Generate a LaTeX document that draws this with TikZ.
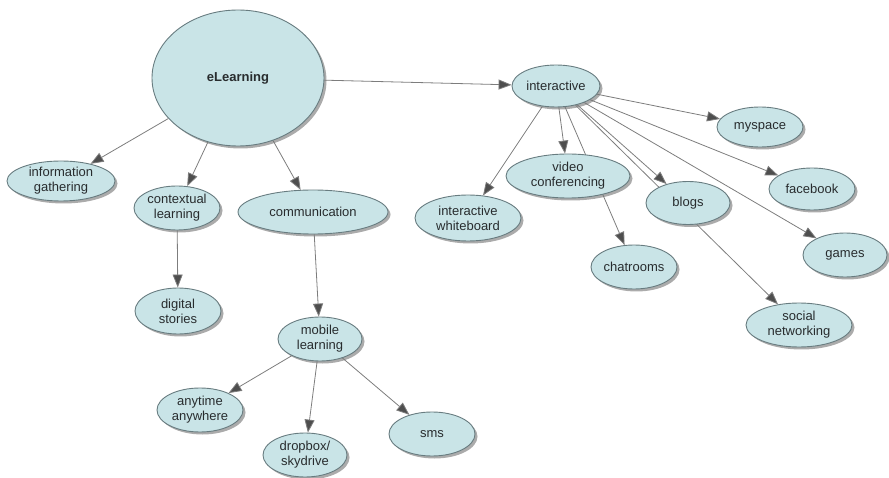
\documentclass[tikz,border=0pt]{standalone}
\usepackage{fontspec}
\setmainfont{Liberation Sans}
\usetikzlibrary{shapes.geometric,arrows.meta,shadows,backgrounds}
\definecolor{conceptfill}{RGB}{201,228,231}
\definecolor{conceptline}{RGB}{104,124,128}
\definecolor{linkgray}{RGB}{125,125,125}
\definecolor{tipgray}{RGB}{78,78,78}
\definecolor{textdark}{RGB}{40,44,46}
\tikzset{
  concept/.style={ellipse, draw=conceptline, line width=0.9pt, fill=conceptfill,
    inner sep=0pt, align=center, text=textdark,
    font=\fontsize{13}{15}\selectfont,
    drop shadow={shadow xshift=2.5pt, shadow yshift=-2.5pt, fill=black!55, opacity=0.6}},
  link/.style={draw=linkgray, line width=0.8pt,
    -{Triangle[length=13pt,width=10pt,fill=tipgray]}},
}
\begin{document}
\begin{tikzpicture}[x=1pt,y=-1pt]
\useasboundingbox (0,0) rectangle (889,478);
% concepts
\node[concept, minimum width=172pt, minimum height=136pt, font=\fontsize{13}{15}\selectfont\bfseries] (elearn) at (238,78) {eLearning};
\node[concept, minimum width=108pt, minimum height=40pt] (info) at (61,181) {information\\gathering};
\node[concept, minimum width=86pt, minimum height=44pt] (context) at (177,208) {contextual\\learning};
\node[concept, minimum width=150pt, minimum height=44pt] (comm) at (313,212) {communication};
\node[concept, minimum width=86pt, minimum height=46pt] (digital) at (178,311) {digital\\stories};
\node[concept, minimum width=84pt, minimum height=44pt] (mobile) at (320,339) {mobile\\learning};
\node[concept, minimum width=86pt, minimum height=44pt] (anytime) at (200,410) {anytime\\anywhere};
\node[concept, minimum width=84pt, minimum height=44pt] (dropbox) at (305,455) {dropbox/\\skydrive};
\node[concept, minimum width=86pt, minimum height=44pt] (sms) at (432,434) {sms};
\node[concept, minimum width=88pt, minimum height=42pt] (inter) at (556,86) {interactive};
\node[concept, minimum width=106pt, minimum height=46pt] (white) at (468,218) {interactive\\whiteboard};
\node[concept, minimum width=124pt, minimum height=44pt] (video) at (568,176) {video\\conferencing};
\node[concept, minimum width=86pt, minimum height=44pt] (chat) at (634,267) {chatrooms};
\node[concept, minimum width=84pt, minimum height=43pt] (blogs) at (688,203) {blogs};
\node[concept, minimum width=86pt, minimum height=40pt] (myspace) at (760,127) {myspace};
\node[concept, minimum width=86pt, minimum height=42pt] (facebook) at (812,189) {facebook};
\node[concept, minimum width=84pt, minimum height=44pt] (games) at (845,255) {games};
\node[concept, minimum width=106pt, minimum height=44pt] (social) at (799,325) {social\\networking};
% links, drawn behind the concepts
\begin{scope}[on background layer]
\draw[link] (elearn) -- (info);
\draw[link] (elearn) -- (context);
\draw[link] (elearn) -- (comm);
\draw[link] (elearn) -- (inter);
\draw[link] (context) -- (digital);
\draw[link] (comm) -- (mobile);
\draw[link] (mobile) -- (anytime);
\draw[link] (mobile) -- (dropbox);
\draw[link] (mobile) -- (sms);
\draw[link] (inter) -- (white);
\draw[link] (inter) -- (video);
\draw[link] (inter) -- (chat);
\draw[link] (inter) -- (blogs);
\draw[link] (inter) -- (social);
\draw[link] (inter) -- (myspace);
\draw[link] (inter) -- (facebook);
\draw[link] (inter) -- (games);
\end{scope}
\end{tikzpicture}
\end{document}
